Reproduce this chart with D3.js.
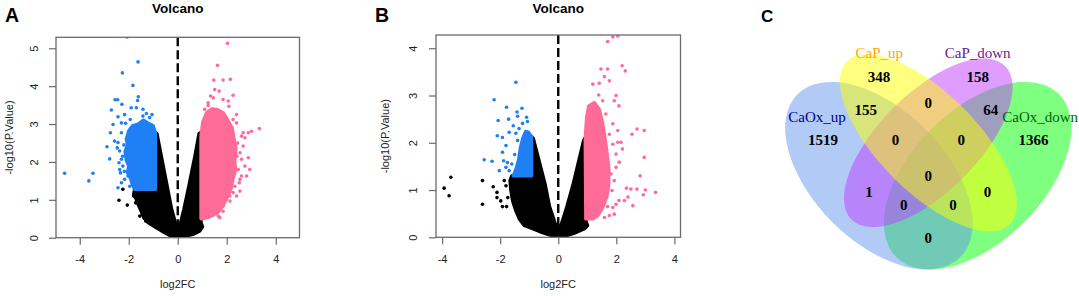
<!DOCTYPE html>
<html>
<head>
<meta charset="utf-8">
<script src="https://cdn.jsdelivr.net/npm/d3@7"></script>
<style>
  body { margin: 0; background: #fff; }
  svg text { font-family: "Liberation Sans", Arial, sans-serif; }
  #vennG text { font-family: "Liberation Serif", "Times New Roman", serif; }
</style>
</head>
<body>
<div id="main"></div>
<script>
const ctx = {
    w: 1079,
    h: 296,
    blue: "#1f7ff4",
    pink: "#ff6b98",
    dotR: 1.8
};

// ---- panel A : [log2FC, -log10(P)] ----
// dense masses are kept as outlines, loose points as single dots
const aBlackMass = [[-0.91,2.77],[-0.91,1.28],[-1.76,1.28],[-1.80,1.14],[-1.69,1.01],[-1.62,0.88],[-1.49,0.70],
    [-1.39,0.53],[-1.21,0.40],[-0.87,0.26],[-0.53,0.13],[-0.26,0.04],[0,0],[0.29,0.04],[0.63,0.09],[0.90,0.18],
    [1.01,0.29],[0.95,0.40],[0.93,2.77],[0.87,2.75],[0.70,2.15],[0.45,1.35],[0.25,0.75],[0.11,0.38],[0,0.25],
    [-0.09,0.38],[-0.25,0.75],[-0.43,1.35],[-0.67,2.15],[-0.85,2.75]];
const aBlueMass = [[-0.91,2.77],[-1.01,2.96],[-1.21,3.02],[-1.40,3.10],[-1.62,3.00],[-1.85,2.95],[-2.00,2.82],
    [-2.10,2.60],[-2.05,2.45],[-2.15,2.28],[-2.10,2.05],[-2.00,1.90],[-2.05,1.72],[-1.92,1.55],[-1.85,1.40],
    [-1.76,1.28],[-0.91,1.28]];
const aPinkMass = [[0.95,0.50],[0.95,2.68],[1.02,3.05],[1.18,3.30],[1.40,3.40],[1.62,3.38],[1.85,3.30],[2.02,3.12],
    [2.22,2.90],[2.30,2.60],[2.38,2.35],[2.32,2.05],[2.36,1.80],[2.25,1.55],[2.18,1.30],[2.00,1.05],[1.85,0.85],
    [1.65,0.68],[1.40,0.58],[1.15,0.52]];
const aBlueDots = [[-2.07,5.30],[-1.62,4.64],[-2.26,4.35],[-1.83,4.02],[-1.61,3.72],[-2.56,3.64],[-2.45,3.64],
    [-1.64,3.62],[-2.28,3.52],[-2.71,3.37],[-1.90,3.43],[-1.69,3.43],[-1.42,3.39],[-2.17,3.25],[-2.44,3.19],
    [-1.05,3.25],[-2.75,2.77],[-2.89,2.40],[-2.78,2.08],[-2.47,2.37],[-2.58,2.55],[-2.37,1.80],[-2.34,1.71],
    [-2.44,1.32],[-4.62,1.70],[-3.46,1.70],[-3.63,1.50],[-2.30,3.03],[-2.64,2.99],[-2.30,2.77],[-2.44,2.51],
    [-2.37,2.29],[-2.30,2.07],[-2.40,1.98],[-2.24,1.89],[-2.03,1.63],[-2.17,1.54],[-2.30,1.45],[-1.96,1.36],
    [-2.13,3.02],[-1.94,3.12],[-1.42,3.21],[-1.28,3.28],[-1.15,3.17],[-2.20,2.45],[-2.25,2.15],[-2.18,1.75]];
const aBlackDots = [[-2.24,1.28],[-2.40,0.99],[-2.06,0.86],[-1.31,0.44],[-1.80,1.10],[-1.55,0.57],[-1.72,0.92]];
const aPinkDots = [[2.03,5.13],[1.62,4.55],[1.47,4.16],[1.85,4.16],[2.15,4.18],[1.51,3.91],[1.69,3.87],[1.34,3.74],
    [2.26,3.76],[1.24,3.49],[2.09,3.47],[2.40,3.25],[3.33,2.88],[3.01,2.81],[2.88,2.77],[2.74,2.64],[2.67,2.42],
    [2.88,2.11],[2.74,1.89],[2.94,1.80],[2.81,1.63],[2.60,1.63],[2.51,1.45],[2.40,1.10],[2.13,0.97],[1.85,0.84],
    [1.72,0.53],[1.58,0.66],[1.45,0.75],[2.54,1.23],[2.60,2.68],[2.67,2.77],[2.54,2.24],[2.60,2.07],[2.47,1.80],
    [2.54,1.54],[2.33,1.36],[2.26,1.19],[2.13,1.10],[1.99,1.01],[1.85,0.70],[1.65,0.57],[1.24,0.53],[1.10,3.39],
    [1.24,3.56],[1.45,3.69],[1.85,3.65],[2.06,3.61],[2.26,3.12],[2.40,3.03],[2.45,2.50],[2.42,2.15],[2.30,1.68]];

// ---- panel B ----
const bBlackMass = [[-0.92,2.13],[-0.92,1.30],[-1.60,1.30],[-1.66,1.20],[-1.63,0.99],[-1.57,0.77],[-1.46,0.56],
    [-1.34,0.39],[-1.17,0.25],[-0.88,0.18],[-0.54,0.10],[-0.19,0.03],[0,0],[0.26,0.03],[0.61,0.10],[0.90,0.18],
    [1.01,0.25],[0.95,0.35],[0.93,2.11],[0.88,2.06],[0.52,1.14],[0.30,0.65],[0.12,0.30],[0,0.15],[-0.11,0.30],
    [-0.30,0.65],[-0.46,1.14],[-0.86,2.09]];
const bBlueMass = [[-0.92,2.13],[-1.02,2.22],[-1.12,2.24],[-1.22,2.10],[-1.30,1.90],[-1.36,1.65],[-1.45,1.45],
    [-1.55,1.30],[-0.92,1.30]];
const bPinkMass = [[0.95,0.39],[0.93,2.11],[0.98,2.54],[1.05,2.78],[1.24,2.85],[1.41,2.71],[1.51,2.46],[1.59,2.18],
    [1.67,1.83],[1.74,1.48],[1.74,1.13],[1.67,0.85],[1.53,0.63],[1.36,0.46],[1.19,0.39]];
const bBlueDots = [[-1.46,3.28],[-2.21,2.91],[-1.78,2.75],[-1.25,2.73],[-1.42,2.65],[-1.40,2.56],[-1.09,2.54],
    [-1.06,2.45],[-2.07,2.47],[-1.71,2.50],[-1.23,2.41],[-1.55,2.36],[-2.10,2.15],[-1.92,2.11],[-1.69,2.22],
    [-1.46,2.20],[-1.80,1.94],[-2.55,1.64],[-2.28,1.61],[-1.88,1.62],[-1.75,1.58],[-2.03,1.41],[-1.80,1.48],
    [-1.69,1.41],[-1.92,1.80],[-1.40,2.05],[-1.50,1.75],[-1.60,1.55],[-1.35,2.30]];
const bBlackDots = [[-3.70,1.27],[-3.93,1.04],[-3.76,0.88],[-2.61,1.20],[-2.61,0.70],[-2.24,1.07],[-2.11,0.95],
    [-2.11,0.84],[-1.98,0.77],[-1.92,0.65],[-1.78,0.65],[-1.86,1.20],[-1.80,1.09],[-1.74,0.84]];
const bPinkDots = [[1.70,4.14],[1.88,4.24],[2.05,4.26],[1.47,3.56],[1.70,3.56],[2.20,3.63],[2.31,3.52],[1.59,3.40],
    [1.76,3.31],[1.19,3.24],[1.41,3.26],[1.39,3.01],[1.99,3.00],[1.93,2.89],[2.09,2.78],[2.71,2.29],[2.54,2.18],
    [2.96,2.26],[2.16,2.01],[2.05,2.01],[2.21,1.87],[2.96,1.69],[1.99,1.76],[2.10,1.59],[2.82,1.30],[2.35,1.04],
    [2.50,1.02],[2.71,1.02],[3.00,1.00],[3.35,0.95],[2.93,0.90],[2.40,0.85],[2.28,0.78],[2.57,0.67],[1.99,0.70],
    [1.88,0.63],[1.70,0.65],[1.76,0.46],[1.93,0.49],[1.59,0.42],[2.09,0.78],[1.88,1.97],[1.82,1.34],[1.93,1.20],
    [1.85,0.99],[1.99,1.48],[1.76,2.18],[1.64,2.61],[1.53,2.89],[1.88,2.40],[2.05,2.26]];

const xTicks = [-4, -2, 0, 2, 4];
const aYTicks = [0, 1, 2, 3, 4, 5];
const bYTicks = [0, 1, 2, 3, 4];

// ---- panel C : Venn ----
const vennSets = ["CaOx_up", "CaP_up", "CaP_down", "CaOx_down"];
// region counts, in the order of vennRegionPos below
const vennCounts = [1519, 348, 158, 1366, 155, 0, 64, 0, 0, 1, 0, 0, 0, 0, 0];

// layout of the 4-ellipse venn, in unit square coords (y up)
const vennRegionPos = [[0.18,0.58],[0.35,0.77],[0.65,0.77],[0.82,0.58],[0.31,0.67],[0.5,0.69],[0.69,0.67],
    [0.4,0.58],[0.6,0.58],[0.32,0.42],[0.5,0.47],[0.425,0.38],[0.575,0.38],[0.68,0.42],[0.5,0.28]];
const vennEllipses = [  // draw order matters for the blending
    {set: 3, cx: 0.65, cy: 0.47, a: 0.35, b: 0.20, rot: 45},
    {set: 0, cx: 0.35, cy: 0.47, a: 0.35, b: 0.20, rot: 135},
    {set: 2, cx: 0.50, cy: 0.57, a: 0.33, b: 0.15, rot: 45},
    {set: 1, cx: 0.50, cy: 0.57, a: 0.35, b: 0.15, rot: 135}
];
const vennFill = ["cornflowerblue", "yellow", "#bf3eff", "#00ff00"];
const vennLabelCol = ["#00008b", "#ffa500", "#68228b", "#006400"];
const vennLabelPos = [[0.162,0.633],[0.351,0.827],[0.65,0.827],[0.84,0.633]];

function volcano(svg, cfg) {
    let g = svg.append("g");
    let x = d3.scaleLinear().domain(cfg.xDom).range([cfg.left, cfg.right]);
    let y = d3.scaleLinear().domain(cfg.yDom).range([cfg.bottom, cfg.top]);

    // dense clouds: fill + fat round stroke so the edge looks like dots
    let area = d3.line().x(d => x(d[0])).y(d => y(d[1])).curve(d3.curveLinearClosed);
    [[cfg.black, "#000"], [cfg.blue, ctx.blue], [cfg.pink, ctx.pink]].forEach(function(p) {
        g.append("path")
            .datum(p[0])
            .attr("d", area)
            .attr("fill", p[1])
            .attr("stroke", p[1])
            .attr("stroke-width", 3.4)
            .attr("stroke-linejoin", "round");
    });
    [[cfg.blackDots, "#000"], [cfg.blueDots, ctx.blue], [cfg.pinkDots, ctx.pink]].forEach(function(p) {
        g.append("g").selectAll("circle")
            .data(p[0])
            .enter()
            .append("circle")
            .attr("cx", d => x(d[0]))
            .attr("cy", d => y(d[1]))
            .attr("r", ctx.dotR)
            .attr("fill", p[1]);
    });

    // dashed line at log2FC = 0
    g.append("line")
        .attr("x1", x(0)).attr("x2", x(0))
        .attr("y1", cfg.top).attr("y2", cfg.bottom)
        .attr("stroke", "#000")
        .attr("stroke-width", 2.4)
        .attr("stroke-dasharray", "9,4");

    // clip anything poking out of the box
    let clipId = "clip" + cfg.id;
    svg.append("clipPath").attr("id", clipId)
        .append("rect")
        .attr("x", cfg.left).attr("y", cfg.top)
        .attr("width", cfg.right - cfg.left).attr("height", cfg.bottom - cfg.top);
    g.attr("clip-path", `url(#${clipId})`);

    svg.append("rect")
        .attr("x", cfg.left).attr("y", cfg.top)
        .attr("width", cfg.right - cfg.left).attr("height", cfg.bottom - cfg.top)
        .attr("fill", "none")
        .attr("stroke", "#6a6a6a")
        .attr("stroke-width", 1.3);

    let xAxis = d3.axisBottom(x).tickValues(xTicks).tickSize(7).tickPadding(11).tickFormat(d => String(d));
    let xg = svg.append("g").attr("transform", `translate(0,${cfg.bottom})`).call(xAxis);
    let yAxis = d3.axisLeft(y).tickValues(cfg.yTicks).tickSize(7).tickFormat(d => String(d));
    let yg = svg.append("g").attr("transform", `translate(${cfg.left},0)`).call(yAxis);
    yg.selectAll("text")
        .attr("x", null).attr("dy", null)
        .attr("text-anchor", "middle")
        .attr("transform", `translate(${cfg.yTickX - cfg.left},0) rotate(-90)`);
    [xg, yg].forEach(function(a) {
        a.select(".domain").remove();
        a.selectAll("line").attr("stroke", "#6a6a6a").attr("stroke-width", 1.2);
        a.selectAll("text")
            .attr("font-family", "Liberation Sans, Arial, sans-serif")
            .attr("font-size", 11)
            .attr("fill", "#222");
    });

    let mid = (cfg.left + cfg.right) / 2;
    svg.append("text")
        .attr("x", mid).attr("y", 13)
        .attr("text-anchor", "middle")
        .attr("font-weight", "bold")
        .attr("font-size", 13.5)
        .text("Volcano");
    svg.append("text")
        .attr("x", mid).attr("y", 288)
        .attr("text-anchor", "middle")
        .attr("font-size", 11)
        .attr("fill", "#222")
        .text("log2FC");
    svg.append("text")
        .attr("transform", `translate(${cfg.yLabX},${(cfg.top + cfg.bottom) / 2}) rotate(-90)`)
        .attr("text-anchor", "middle")
        .attr("font-size", 11)
        .attr("fill", "#222")
        .text("-log10(P.Value)");
    svg.append("text")
        .attr("x", cfg.letterX).attr("y", 21.7)
        .attr("font-weight", "bold")
        .attr("font-size", 19.5)
        .text(cfg.letter);
}

function venn(svg) {
    let u = d3.scaleLinear().domain([0, 1]).range([763.8, 1092.8]);
    let v = d3.scaleLinear().domain([0, 1]).range([330.3, 1.3]);
    let s = u(1) - u(0);
    let g = svg.append("g").attr("id", "vennG");

    g.selectAll("ellipse")
        .data(vennEllipses)
        .enter()
        .append("ellipse")
        .attr("cx", d => u(d.cx))
        .attr("cy", d => v(d.cy))
        .attr("rx", d => d.a * s)
        .attr("ry", d => d.b * s)
        .attr("transform", d => `rotate(${-d.rot},${u(d.cx)},${v(d.cy)})`)
        .attr("fill", d => vennFill[d.set])
        .attr("fill-opacity", 0.5)
        .attr("stroke", "none");

    g.selectAll("text.count")
        .data(vennCounts)
        .enter()
        .append("text")
        .attr("class", "count")
        .attr("x", (d, i) => u(vennRegionPos[i][0]))
        .attr("y", (d, i) => v(vennRegionPos[i][1]))
        .attr("dy", "0.34em")
        .attr("text-anchor", "middle")
        .attr("font-weight", "bold")
        .attr("font-size", 15)
        .attr("fill", "#000")
        .text(d => d);

    g.selectAll("text.cat")
        .data(vennSets)
        .enter()
        .append("text")
        .attr("class", "cat")
        .attr("x", (d, i) => u(vennLabelPos[i][0]))
        .attr("y", (d, i) => v(vennLabelPos[i][1]))
        .attr("text-anchor", "middle")
        .attr("font-size", 15)
        .attr("fill", (d, i) => vennLabelCol[i])
        .text(d => d);

    svg.append("text")
        .attr("x", 761).attr("y", 22)
        .attr("font-weight", "bold")
        .attr("font-size", 17)
        .text("C");
}

function createViz() {
    let svg = d3.select("#main").append("svg")
        .attr("width", ctx.w)
        .attr("height", ctx.h);
    svg.append("rect").attr("width", ctx.w).attr("height", ctx.h).attr("fill", "#fff");

    volcano(svg, {
        id: "A", letter: "A", letterX: 5,
        left: 56, right: 299.5, top: 37.3, bottom: 237.7,
        xDom: [-4.97, 4.97], yDom: [0, 5.29], yTicks: aYTicks,
        yTickX: 37.5, yLabX: 12.8,
        black: aBlackMass, blue: aBlueMass, pink: aPinkMass,
        blackDots: aBlackDots, blueDots: aBlueDots, pinkDots: aPinkDots
    });
    volcano(svg, {
        id: "B", letter: "B", letterX: 375,
        left: 436, right: 680.5, top: 35, bottom: 237.3,
        xDom: [-4.21, 4.21], yDom: [0, 4.28], yTicks: bYTicks,
        yTickX: 416.7, yLabX: 388.5,
        black: bBlackMass, blue: bBlueMass, pink: bPinkMass,
        blackDots: bBlackDots, blueDots: bBlueDots, pinkDots: bPinkDots
    });
    venn(svg);
}

createViz();
</script>
</body>
</html>
